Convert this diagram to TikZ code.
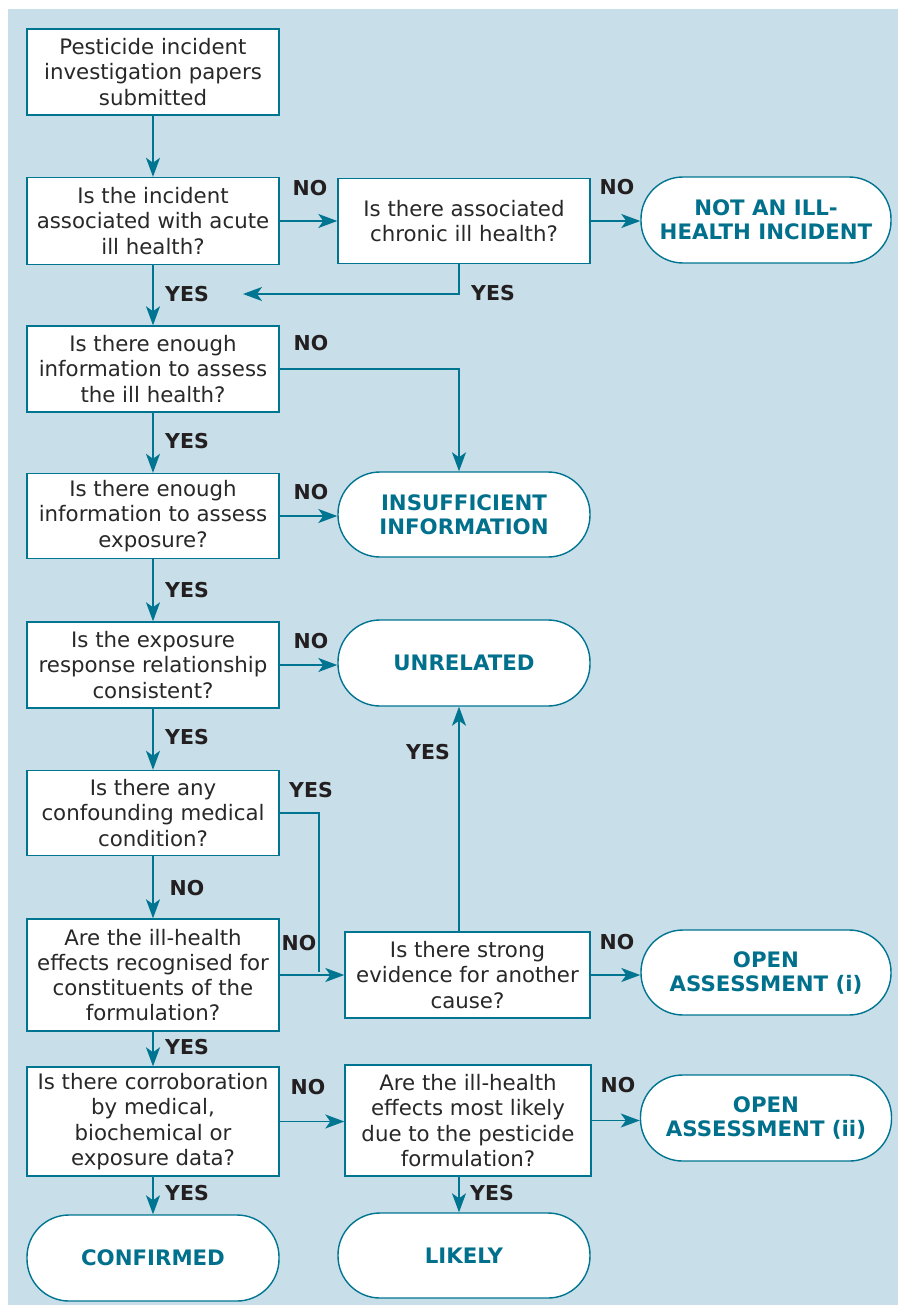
\documentclass[tikz,border=0pt]{standalone}
\usepackage{fontspec}
\setmainfont{DejaVu Sans}
\usetikzlibrary{arrows.meta}
\definecolor{bg}{RGB}{200,222,232}
\definecolor{tealline}{RGB}{0,117,145}
\definecolor{tealtxt}{RGB}{0,112,140}
\definecolor{lbl}{RGB}{35,31,32}
\definecolor{boxtxt}{RGB}{40,40,40}
\tikzset{
  qbox/.style={draw=tealline, line width=1.4pt, fill=white, align=center, inner sep=0pt,
    font=\fontsize{21.3}{25.3}\selectfont, text=boxtxt},
  term/.style={draw=tealline, line width=1.4pt, fill=white, rounded corners=42pt, align=center,
    inner sep=0pt, font=\bfseries\fontsize{21.3}{24}\selectfont, text=tealtxt},
  lab/.style={font=\bfseries\fontsize{20.5}{24}\selectfont, text=lbl, inner sep=0pt},
  conn/.style={draw=tealline, line width=1.7pt},
  arr/.style={conn, -{Stealth[length=19pt,width=14pt,inset=5pt]}}
}
\begin{document}
\begin{tikzpicture}[x=1pt,y=-1pt]
\useasboundingbox (0,0) rectangle (898,1316);
\fill[bg] (8,9) rectangle (898,1305);

% question boxes
\node[qbox, minimum width=252pt, minimum height=86pt] (b1) at (153,72) {Pesticide incident\\investigation papers\\submitted};
\node[qbox, minimum width=252pt, minimum height=87pt] (b2) at (153,221) {Is the incident\\associated with acute\\ill health?};
\node[qbox, minimum width=252pt, minimum height=85pt] (b3) at (464,221) {Is there associated\\chronic ill health?};
\node[qbox, minimum width=252pt, minimum height=86pt] (b4) at (153,369) {Is there enough\\information to assess\\the ill health?};
\node[qbox, minimum width=252pt, minimum height=85pt] (b5) at (153,516) {Is there enough\\information to assess\\exposure?};
\node[qbox, minimum width=252pt, minimum height=86pt] (b6) at (153,665) {Is the exposure\\response relationship\\consistent?};
\node[qbox, minimum width=252pt, minimum height=85pt] (b7) at (153,813) {Is there any\\confounding medical\\condition?};
\node[qbox, minimum width=252pt, minimum height=112pt] (b8) at (153,975) {Are the ill-health\\effects recognised for\\constituents of the\\formulation?};
\node[qbox, minimum width=245pt, minimum height=86pt] (b9) at (467.5,975) {Is there strong\\evidence for another\\cause?};
\node[qbox, minimum width=252pt, minimum height=109pt] (b10) at (153,1121.5) {Is there corroboration\\by medical,\\biochemical or\\exposure data?};
\node[qbox, minimum width=246pt, minimum height=111pt] (b11) at (468,1120.5) {Are the ill-health\\effects most likely\\due to the pesticide\\formulation?};

% terminals
\node[term, minimum width=250pt, minimum height=86pt] (t1) at (766,220) {NOT AN ILL-\\HEALTH INCIDENT};
\node[term, minimum width=252pt, minimum height=85pt] (t2) at (464,514.5) {INSUFFICIENT\\INFORMATION};
\node[term, minimum width=252pt, minimum height=86pt] (t3) at (464,663) {UNRELATED};
\node[term, minimum width=250pt, minimum height=85pt] (t4) at (766,972.5) {OPEN\\ASSESSMENT (i)};
\node[term, minimum width=251pt, minimum height=86pt] (t5) at (766,1118) {OPEN\\ASSESSMENT (ii)};
\node[term, minimum width=252pt, minimum height=86pt] (t6) at (153,1258) {CONFIRMED};
\node[term, minimum width=252pt, minimum height=85pt] (t7) at (464,1255.5) {LIKELY};

% helper coordinates
\coordinate (yesend) at (243,294);
\coordinate (c3) at (459,294);
\coordinate (c4) at (459,367);
\coordinate (j7) at (319,972);
\coordinate (c9) at (459,0);

% connectors
\draw[arr] (b1) -- (b2);
\draw[arr] (b2.east) -- (b2.east -| b3.west);
\draw[arr] (b3.east) -- (b3.east -| t1.west);
\draw[arr] (b3.south -| c3) |- (yesend);
\draw[arr] (b2) -- (b4);
\draw[arr] (b4.east) -| (t2.north -| c4);
\draw[arr] (b4) -- (b5);
\draw[arr] (b5.east) -- (b5.east -| t2.west);
\draw[arr] (b5) -- (b6);
\draw[arr] (b6.east) -- (b6.east -| t3.west);
\draw[arr] (b6) -- (b7);
\draw[conn] (b7.east) -| (j7);
\draw[arr] (b7) -- (b8);
\draw[arr] (b8.east) -- (b9.west);
\draw[arr] (b9.north -| c9) -- (t3.south -| c9);
\draw[arr] (b9.east) -- (b9.east -| t4.west);
\draw[arr] (b8) -- (b10);
\draw[arr] (b10.east) -- (b10.east -| b11.west);
\draw[arr] (b11.east) -- (b11.east -| t5.west);
\draw[arr] (b10) -- (t6);
\draw[arr] (b11.south -| c9) -- (t7.north -| c9);

% labels
\node[lab] (l1) at (310,188) {NO};
\node[lab] (l2) at (617,187) {NO};
\node[lab] (l3) at (493,293) {YES};
\node[lab] (l4) at (187,294) {YES};
\node[lab] (l5) at (311,343) {NO};
\node[lab] (l6) at (187,441) {YES};
\node[lab] (l7) at (311,492) {NO};
\node[lab] (l8) at (187,590) {YES};
\node[lab] (l9) at (311,641) {NO};
\node[lab] (l10) at (187,737) {YES};
\node[lab] (l11) at (311,790) {YES};
\node[lab] (l12) at (428,752) {YES};
\node[lab] (l13) at (187,888) {NO};
\node[lab] (l14) at (299,943) {NO};
\node[lab] (l15) at (617,942) {NO};
\node[lab] (l16) at (187,1047) {YES};
\node[lab] (l17) at (308,1087) {NO};
\node[lab] (l18) at (618,1085) {NO};
\node[lab] (l19) at (187,1193) {YES};
\node[lab] (l20) at (492,1193) {YES};
\end{tikzpicture}
\end{document}
